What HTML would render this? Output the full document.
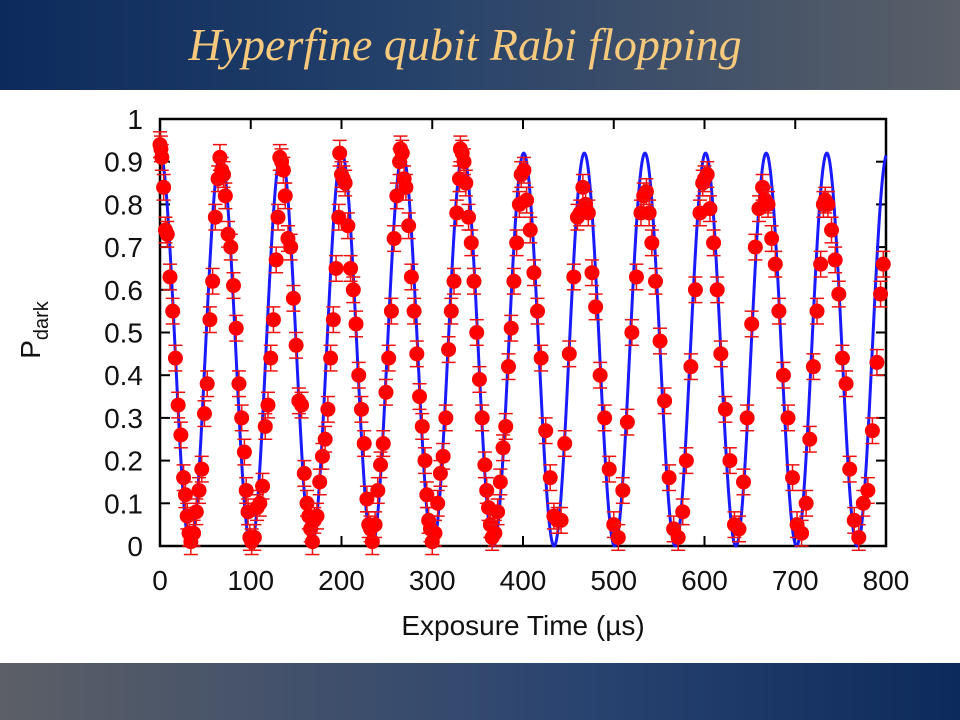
<!DOCTYPE html>
<html><head><meta charset="utf-8"><style>
html,body{margin:0;padding:0;width:960px;height:720px;overflow:hidden;background:#fff;font-family:"Liberation Sans",sans-serif}
#hdr{position:absolute;left:0;top:0;width:960px;height:90px;background:linear-gradient(90deg,#0c2a5c 0%,#23406a 40%,#5a5f68 100%)}
#ftr{position:absolute;left:0;top:663px;width:960px;height:57px;background:linear-gradient(90deg,#5c5f66 0%,#2a4470 60%,#0c2a5c 100%)}
#title{position:absolute;left:0;width:930px;top:18px;text-align:center;color:#f7c97c;font-family:"Liberation Serif",serif;font-style:italic;font-size:46px}
svg{position:absolute;left:0;top:0}
</style></head><body>
<div id="hdr"></div>
<div id="title">Hyperfine qubit Rabi flopping</div>
<div id="ftr"></div>
<svg id="chart" width="960" height="720"></svg>
<script>
const times=[0,1,2,4,6,8,11,14,17,20,23,26,28,30,32,34,37,40,43,46,49,52,55,58,61,64,
66,68,70,72,75,78,81,84,87,90,93,95,97,99,101,104,107,110,113,116,119,122,125,128,130,
132,134,136,138,141,144,147,150,153,156,159,162,164,166,168,170,173,176,179,182,185,188,191,194,197,
198,200,202,204,207,210,213,216,219,222,225,228,230,232,234,237,240,243,246,249,252,255,258,261,264,
265,267,269,271,274,277,280,283,286,289,292,294,296,298,300,303,306,309,312,315,318,321,324,327,330,
331,333,335,337,340,343,346,349,352,355,358,360,362,364,366,369,372,375,378,381,384,387,390,393,396,
398,401,404,408,412,416,420,425,430,434,438,442,446,451,456,460,463,
466,469,472,476,480,485,490,495,500,505,510,515,520,525,530,
533,536,539,542,546,551,556,561,566,571,576,580,585,590,595,598,
600,603,606,610,614,618,623,628,633,638,643,647,652,656,660,664,
667,670,674,678,682,687,692,697,702,707,712,716,720,724,728,731,
733,736,740,744,748,752,756,760,765,770,775,780,785,790,794,797];
const pdark=[.94,.93,.91,.84,.74,.73,.63,.55,.44,.33,.26,.16,.12,.07,.03,.01,.03,.08,.13,.18,.31,.38,.53,.62,.77,.86,
.91,.88,.87,.82,.73,.70,.61,.51,.38,.30,.22,.13,.08,.02,.01,.02,.09,.10,.14,.28,.33,.44,.53,.67,.77,
.91,.90,.88,.82,.72,.70,.58,.47,.34,.33,.17,.10,.07,.04,.01,.06,.07,.15,.21,.25,.32,.44,.53,.65,.77,
.92,.87,.86,.85,.75,.65,.60,.52,.40,.32,.24,.11,.05,.04,.01,.05,.13,.19,.24,.36,.44,.55,.72,.82,.90,
.93,.92,.86,.84,.75,.63,.55,.45,.35,.28,.20,.12,.06,.04,.01,.03,.10,.17,.21,.30,.46,.55,.62,.78,.86,
.93,.92,.90,.85,.77,.71,.62,.50,.39,.30,.19,.13,.09,.05,.02,.03,.08,.15,.23,.28,.42,.51,.62,.71,.80,
.87,.88,.81,.74,.64,.55,.44,.27,.16,.07,.06,.06,.24,.45,.63,.77,.78,
.84,.80,.78,.64,.56,.40,.30,.18,.05,.02,.13,.29,.50,.63,.78,
.82,.83,.78,.71,.62,.48,.34,.16,.04,.02,.08,.20,.42,.60,.78,.85,
.86,.87,.79,.71,.60,.45,.32,.20,.05,.04,.15,.30,.52,.70,.79,.84,
.81,.80,.72,.66,.55,.40,.30,.16,.05,.03,.10,.25,.42,.55,.66,.80,
.81,.80,.74,.67,.59,.44,.38,.18,.06,.02,.10,.13,.27,.43,.59,.66];
const errBar=[0.03];
const fitParams=[0.46,0.46,66.8]; // offset, amplitude, period (us)
const xTicks=[0,100,200,300,400,500,600,700,800];
const yTicks=[0,0.1,0.2,0.3,0.4,0.5,0.6,0.7,0.8,0.9,1];
const yTickLabels=["0","0.1","0.2","0.3","0.4","0.5","0.6","0.7","0.8","0.9","1"];

const NS="http://www.w3.org/2000/svg";
const svg=document.getElementById('chart');
const L=160,R=886,T=119,B=546;
const xs=t=>L+(t-0)/(800)*(R-L);
const ys=v=>B-v*(B-T);
function mk(tag,at,parent){const e=document.createElementNS(NS,tag);for(const k in at)e.setAttribute(k,at[k]);(parent||svg).appendChild(e);return e;}

const frame=mk('rect',{x:L,y:T,width:R-L,height:B-T,fill:'none',stroke:'#000','stroke-width':2.5});



xTicks.forEach(t=>{
  const g=mk('g',{});
  
  
  mk('line',{x1:xs(t),x2:xs(t),y1:B,y2:B-10,stroke:'#000','stroke-width':2},g);
  mk('line',{x1:xs(t),x2:xs(t),y1:T,y2:T+10,stroke:'#000','stroke-width':2},g);
  const tx=mk('text',{x:xs(t),y:590,'text-anchor':'middle','font-size':28,fill:'#111'},g);
  tx.textContent=String(t);
});
yTicks.forEach((v,i)=>{
  const g=mk('g',{});
  
  
  mk('line',{x1:L,x2:L+10,y1:ys(v),y2:ys(v),stroke:'#000','stroke-width':2},g);
  mk('line',{x1:R,x2:R-10,y1:ys(v),y2:ys(v),stroke:'#000','stroke-width':2},g);
  const tx=mk('text',{x:143,y:ys(v)+10,'text-anchor':'end','font-size':28,fill:'#111'},g);
  tx.textContent=yTickLabels[i];
});

const xl=mk('text',{x:523,y:635,'text-anchor':'middle','font-size':28,fill:'#111'});


xl.textContent='Exposure Time (\u00b5s)';
const yl=mk('text',{x:0,y:0,'text-anchor':'middle','font-size':28,fill:'#111',transform:'translate(40,330) rotate(-90)'});


yl.innerHTML='P<tspan font-size="20" dy="8">dark</tspan>';

let d='';
for(let t=0;t<=800;t+=0.5){
  const v=fitParams[0]+fitParams[1]*Math.cos(2*Math.PI*t/fitParams[2]);
  d+=(t===0?'M':'L')+xs(t).toFixed(2)+','+ys(v).toFixed(2);
}
const fit=mk('path',{d:d,fill:'none',stroke:'#1a1aff','stroke-width':3});



const e=errBar[0];
times.forEach((t,i)=>{
  const v=pdark[i];
  const g=mk('g',{stroke:'#ee1111','stroke-width':1.5});
  
  
  const x=xs(t),y1=ys(v+e),y2=ys(v-e);
  mk('line',{x1:x,x2:x,y1:y1,y2:y2},g);
  mk('line',{x1:x-7,x2:x+7,y1:y1,y2:y1},g);
  mk('line',{x1:x-7,x2:x+7,y1:y2,y2:y2},g);
  mk('circle',{cx:x,cy:ys(v),r:7.5,fill:'#ff0000',stroke:'none'},g);
});
</script>
</body></html>
